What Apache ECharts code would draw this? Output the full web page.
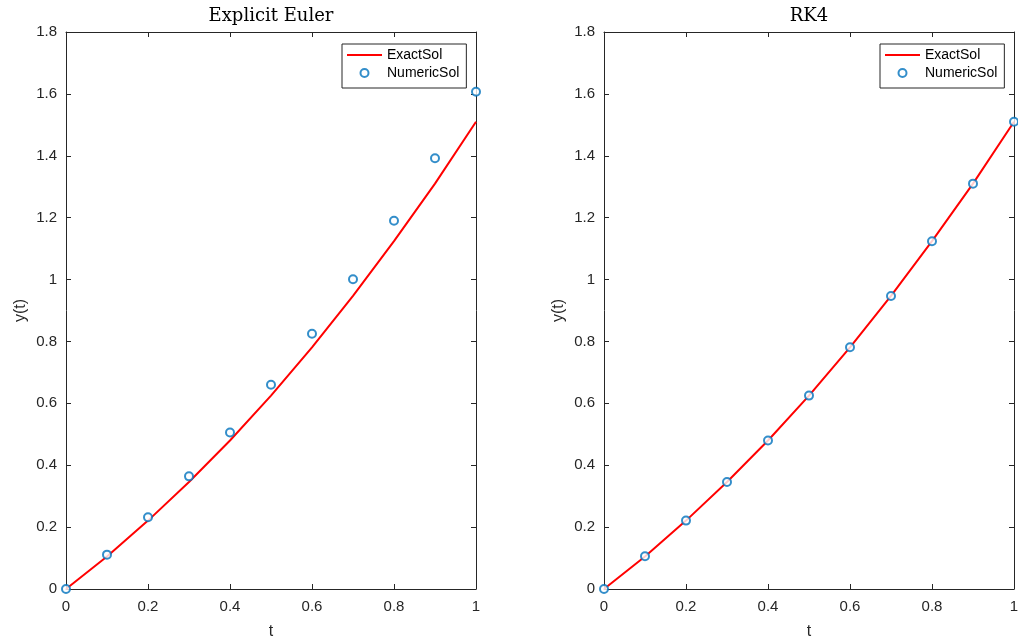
<!DOCTYPE html>
<html>
<head>
<meta charset="utf-8">
<script src="https://cdn.jsdelivr.net/npm/echarts@6/dist/echarts.min.js"></script>
<style>
  html, body { margin: 0; background: #fff; }
  #chart { width: 1018px; height: 644px; }
</style>
</head>
<body>
<div id="chart"></div>
<script>
  // time steps (h = 0.1)
  const t = [0, 0.1, 0.2, 0.3, 0.4, 0.5, 0.6, 0.7, 0.8, 0.9, 1.0];
  // exact solution
  const exactY = [0, 0.105, 0.221, 0.346, 0.480, 0.625, 0.781, 0.947, 1.124, 1.310, 1.510];
  // explicit euler result
  const eulerY = [0, 0.111, 0.232, 0.364, 0.506, 0.660, 0.825, 1.001, 1.190, 1.392, 1.607];
  // rk4 result
  const rk4Y = [0, 0.106, 0.221, 0.346, 0.480, 0.625, 0.781, 0.947, 1.124, 1.310, 1.510];
  // axis ticks
  const xTicks = [0, 0.2, 0.4, 0.6, 0.8, 1];
  const yTicks = [0, 0.2, 0.4, 0.6, 0.8, 1, 1.2, 1.4, 1.6, 1.8];
  const panelTitles = ['Explicit Euler', 'RK4'];

  const axisColor = '#262626';
  const pairs = ys => t.map((x, i) => [x, ys[i]]);

  // fixed plot boxes, no auto shrinking
  const grids = [
    {left: 66, top: 32, width: 410, height: 557, outerBoundsMode: 'none'},
    {left: 604, top: 32, width: 410, height: 557, outerBoundsMode: 'none'}
  ];

  const xAxes = [];
  const yAxes = [];
  grids.forEach((g, gi) => {
    const tick = {show: true, inside: true, length: 5, lineStyle: {color: axisColor}};
    const line = {show: true, onZero: false, lineStyle: {color: axisColor, width: 1}};
    // bottom x
    xAxes.push({
      gridIndex: gi, type: 'value', position: 'bottom',
      min: xTicks[0], max: xTicks[xTicks.length - 1], interval: xTicks[1] - xTicks[0],
      axisLine: line, axisTick: tick, splitLine: {show: false},
      axisLabel: {fontSize: 15, color: axisColor, margin: 10, fontFamily: 'Liberation Sans'},
      name: 't', nameLocation: 'middle', nameGap: 35,
      nameTextStyle: {fontSize: 16, color: axisColor, fontFamily: 'Liberation Sans'}
    });
    // top x (box)
    xAxes.push({
      gridIndex: gi, type: 'value', position: 'top',
      min: xTicks[0], max: xTicks[xTicks.length - 1], interval: xTicks[1] - xTicks[0],
      axisLine: line, axisTick: tick, splitLine: {show: false}, axisLabel: {show: false}
    });
    // left y
    yAxes.push({
      gridIndex: gi, type: 'value', position: 'left',
      min: yTicks[0], max: yTicks[yTicks.length - 1], interval: yTicks[1] - yTicks[0],
      axisLine: line, axisTick: tick, splitLine: {show: false},
      axisLabel: {fontSize: 15, color: axisColor, margin: 9, padding: [4, 0, 0, 0], fontFamily: 'Liberation Sans'},
      name: 'y(t)', nameLocation: 'middle', nameGap: 37,
      nameTextStyle: {fontSize: 16, color: axisColor, fontFamily: 'Liberation Sans'}
    });
    // right y (box)
    yAxes.push({
      gridIndex: gi, type: 'value', position: 'right',
      min: yTicks[0], max: yTicks[yTicks.length - 1], interval: yTicks[1] - yTicks[0],
      axisLine: line, axisTick: tick, splitLine: {show: false}, axisLabel: {show: false}
    });
  });

  const numeric = [eulerY, rk4Y];
  const series = [];
  grids.forEach((g, gi) => {
    series.push({
      name: 'ExactSol', type: 'line', xAxisIndex: gi * 2, yAxisIndex: gi * 2,
      data: pairs(exactY), symbol: 'none', smooth: false,
      lineStyle: {color: '#ff0000', width: 2}, itemStyle: {color: '#ff0000'},
      silent: true, animation: false
    });
    series.push({
      name: 'NumericSol', type: 'scatter', xAxisIndex: gi * 2, yAxisIndex: gi * 2,
      data: pairs(numeric[gi]), symbol: 'emptyCircle', symbolSize: 8,
      itemStyle: {color: '#0072bd', borderColor: '#0072bd', borderWidth: 1.5},
      z: 3, animation: false
    });
  });

  // thin line icon for the legend (extra move-to points keep the box 35x8)
  const lineIcon = 'path://M0,0 M0,3 L35,3 L35,5 L0,5 Z M35,8';

  const legendBase = {
    orient: 'vertical', top: 44,
    data: [
      {name: 'ExactSol', icon: lineIcon, itemStyle: {color: '#ff0000', borderWidth: 0}},
      {name: 'NumericSol'}
    ],
    borderColor: axisColor, borderWidth: 1, backgroundColor: '#fff',
    padding: [4, 7, 8, 5], itemGap: 4, itemWidth: 35, itemHeight: 8,
    textStyle: {fontSize: 14, color: '#000', fontFamily: 'Liberation Sans'},
    selectedMode: false
  };

  const chart = echarts.init(document.getElementById('chart'));
  chart.setOption({
    animation: false,
    title: panelTitles.map((txt, i) => ({
      text: txt,
      left: grids[i].left + grids[i].width / 2,
      textAlign: 'center',
      top: 7, padding: 0,
      textStyle: {fontSize: 18, fontWeight: 'normal', color: '#000', fontFamily: 'DejaVu Serif'}
    })),
    legend: [
      Object.assign({}, legendBase, {left: 342}),
      Object.assign({}, legendBase, {left: 880})
    ],
    grid: grids,
    xAxis: xAxes,
    yAxis: yAxes,
    series: series
  });
</script>
</body>
</html>
